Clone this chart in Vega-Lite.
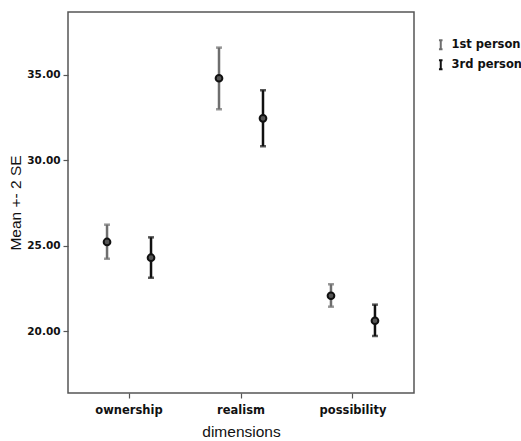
{
  "$schema": "https://vega.github.io/schema/vega-lite/v6.json",
  "autosize": {"type": "none"},
  "padding": {"left": 68, "top": 12, "right": 107, "bottom": 48},
  "width": 346,
  "height": 381,
  "background": "white",
  "config": {
    "font": "Liberation Sans",
    "view": {"stroke": "#555555", "strokeWidth": 1.5},
    "axis": {"domain": false, "grid": false, "tickColor": "#555555", "tickWidth": 1.2, "tickSize": 5, "labelColor": "#111111", "labelFontWeight": "bold", "labelFontSize": 12, "titleColor": "#111111", "titleFontSize": 15.5, "titleFontWeight": "normal", "labelFont": "DejaVu Sans", "titleFont": "Liberation Sans"}
  },
  "data": {
    "values": [
      {"dimension": "ownership", "group": "1st person", "mean": 25.22, "low": 24.24, "high": 26.23},
      {"dimension": "ownership", "group": "3rd person", "mean": 24.30, "low": 23.13, "high": 25.49},
      {"dimension": "realism", "group": "1st person", "mean": 34.78, "low": 32.97, "high": 36.57},
      {"dimension": "realism", "group": "3rd person", "mean": 32.44, "low": 30.81, "high": 34.08},
      {"dimension": "possibility", "group": "1st person", "mean": 22.08, "low": 21.44, "high": 22.75},
      {"dimension": "possibility", "group": "3rd person", "mean": 20.62, "low": 19.73, "high": 21.56}
    ]
  },
  "encoding": {
    "x": {
      "field": "dimension", "type": "nominal", "sort": ["ownership", "realism", "possibility"],
      "scale": {"paddingInner": 0, "paddingOuter": 0.045},
      "axis": {"labelAngle": 0, "title": "dimensions", "labelPadding": 6, "titlePadding": 9, "labelFontSize": 11.5}
    },
    "xOffset": {
      "field": "group", "type": "nominal",
      "scale": {"paddingInner": 0, "paddingOuter": 0.2727}
    }
  },
  "layer": [
    {
      "mark": {"type": "rule", "strokeWidth": 2.5},
      "encoding": {
        "y": {"field": "low", "type": "quantitative",
          "scale": {"domain": [16.4, 38.65], "nice": false, "zero": false},
          "axis": {"values": [20, 25, 30, 35], "format": ".2f", "title": "Mean +- 2 SE", "labelPadding": 3, "labelFontSize": 10.5, "titlePadding": 3}},
        "y2": {"field": "high"},
        "color": {
          "field": "group", "type": "nominal",
          "scale": {"domain": ["1st person", "3rd person"], "range": ["#6e6e6e", "#111111"]},
          "legend": {
            "title": null, "orient": "none", "legendX": 367, "legendY": 27,
            "symbolType": "M0,-1L0,1M-0.4,-1L0.4,-1M-0.4,1L0.4,1",
            "symbolSize": 80, "symbolStrokeWidth": 2, "symbolFillColor": "transparent",
            "labelFont": "DejaVu Sans", "labelFontWeight": "bold", "labelFontSize": 11.5, "labelColor": "#111111",
            "rowPadding": 2, "labelOffset": 5, "labelLimit": 200
          }
        }
      }
    },
    {
      "mark": {"type": "tick", "orient": "horizontal", "size": 6, "thickness": 2.5},
      "encoding": {
        "y": {"field": "low", "type": "quantitative"},
        "color": {"field": "group", "type": "nominal", "legend": null}
      }
    },
    {
      "mark": {"type": "tick", "orient": "horizontal", "size": 6, "thickness": 2.5},
      "encoding": {
        "y": {"field": "high", "type": "quantitative"},
        "color": {"field": "group", "type": "nominal", "legend": null}
      }
    },
    {
      "mark": {"type": "point", "filled": true, "fill": "#555555", "stroke": "#111111", "strokeWidth": 2, "size": 45, "opacity": 1},
      "encoding": {
        "y": {"field": "mean", "type": "quantitative"}
      }
    }
  ]
}
